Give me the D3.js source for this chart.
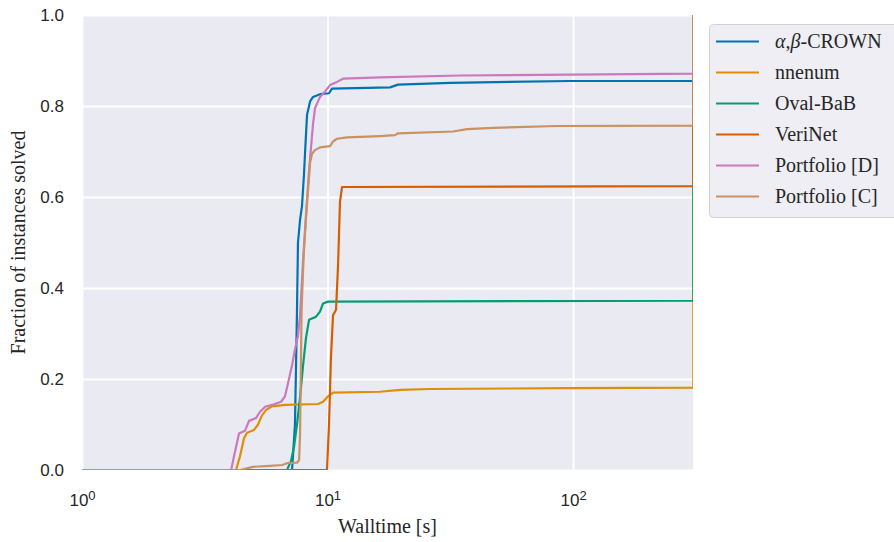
<!DOCTYPE html>
<html>
<head>
<meta charset="utf-8">
<script src="https://cdn.jsdelivr.net/npm/d3@7"></script>
<style>
	body { margin: 0; background: #fff; }
	svg { display: block; }
</style>
</head>
<body>
<svg id="chart" width="894" height="542"></svg>
<script>
// [walltime in s, fraction of instances solved]
const crown = [[1,0],[7.17,0],[7.37,0.1],[7.51,0.35],[7.58,0.5],[7.73,0.55],[7.87,0.58],[8.02,0.65],[8.14,0.72],[8.25,0.78],[8.49,0.81],[8.73,0.82],[9.32,0.826],[10.14,0.828],[10.43,0.838],[17.98,0.841],[19.38,0.847],[31.55,0.851],[97.2,0.855],[309,0.855],[309,1]];
const nnenum = [[1,0],[4.24,0],[4.40,0.03],[4.57,0.07],[4.70,0.082],[5.02,0.088],[5.21,0.10],[5.41,0.12],[5.62,0.132],[5.94,0.140],[6.71,0.143],[9.15,0.145],[9.59,0.15],[10.05,0.162],[10.53,0.170],[16.36,0.172],[19.74,0.176],[26.15,0.178],[97.2,0.180],[309,0.181],[309,1]];
const ovalBab = [[1,0],[6.84,0],[7.10,0.02],[7.30,0.05],[7.51,0.10],[7.73,0.16],[7.95,0.23],[8.17,0.29],[8.41,0.33],[8.98,0.337],[9.32,0.348],[9.59,0.366],[10.05,0.370],[309,0.372],[309,1]];
const veriNet = [[1,0],[9.95,0],[10.14,0.10],[10.33,0.25],[10.53,0.34],[10.83,0.352],[11.04,0.45],[11.24,0.59],[11.46,0.622],[309,0.624],[309,1]];
const portfolioD = [[1,0],[4.05,0],[4.16,0.03],[4.36,0.08],[4.61,0.086],[4.79,0.108],[5.11,0.114],[5.31,0.128],[5.57,0.139],[5.94,0.143],[6.47,0.150],[6.71,0.162],[6.90,0.19],[7.17,0.23],[7.37,0.265],[7.58,0.295],[7.73,0.34],[7.95,0.46],[8.17,0.56],[8.41,0.66],[8.57,0.71],[8.73,0.76],[8.89,0.795],[9.32,0.82],[9.77,0.832],[10.24,0.846],[10.93,0.853],[11.57,0.860],[16.36,0.863],[34.65,0.867],[97.2,0.869],[309,0.871],[309,1]];
const portfolioC = [[1,0],[4.40,0],[4.97,0.007],[5.83,0.009],[6.53,0.011],[6.84,0.015],[7.51,0.016],[7.66,0.022],[7.73,0.08],[7.84,0.35],[7.99,0.47],[8.21,0.57],[8.37,0.63],[8.49,0.675],[8.65,0.695],[8.89,0.703],[9.32,0.709],[10.24,0.712],[10.53,0.722],[10.93,0.728],[12.01,0.731],[16.36,0.734],[18.83,0.736],[19.38,0.740],[32.45,0.744],[37.0,0.749],[47.2,0.752],[86.1,0.756],[309,0.757],[309,1]];

const seriesNames = ['α,β-CROWN', 'nnenum', 'Oval-BaB', 'VeriNet', 'Portfolio [D]', 'Portfolio [C]'];
const xTicks = [1, 10, 100];
const yTicks = [0, 0.2, 0.4, 0.6, 0.8, 1.0];
const xDomain = [1, 308];

;(() => {
	'use strict';

	const svg = d3.select('#chart'),
		left = 82,
		right = 693,
		top = 15,
		bottom = 470,
		serif = '"Liberation Serif", "Times New Roman", serif',
		sans = '"Liberation Sans", Arial, sans-serif',
		textColor = '#262626';

	// seaborn colorblind palette
	const colors = ['#0173b2', '#de8f05', '#029e73', '#d55e00', '#cc78bc', '#ca9161'],
		allSeries = [crown, nnenum, ovalBab, veriNet, portfolioD, portfolioC];

	const x = d3.scaleLog().domain(xDomain).range([left, right]),
		y = d3.scaleLinear().domain([0, 1]).range([bottom, top]);

	// plot background
	svg.append('rect')
		.attr('x', left)
		.attr('y', top)
		.attr('width', right - left)
		.attr('height', bottom - top)
		.attr('fill', '#eaeaf2');

	svg.append('clipPath')
		.attr('id', 'plot-clip')
		.append('rect')
		.attr('x', left)
		.attr('y', top)
		.attr('width', right - left)
		.attr('height', bottom - top);

	/**
	* style an axis group the seaborn darkgrid way
	* @returns {undefined}
	*/
	const styleAxis = function(g) {
		g.select('.domain').remove();
		g.selectAll('.tick line')
			.attr('stroke', '#fff')
			.attr('stroke-width', 1.8);
		g.selectAll('.tick text')
			.attr('fill', textColor)
			.style('font-family', sans)
			.style('font-size', '17px');
	};

	// x axis, grid included
	const xAxis = svg.append('g')
		.attr('transform', `translate(0,${bottom})`)
		.call(d3.axisBottom(x)
			.tickValues(xTicks)
			.tickSize(-(bottom - top))
			.tickPadding(24))
		.call(styleAxis);

	xAxis.selectAll('.tick text')
		.each(function(d) {
			const t = d3.select(this);
			t.text(null);
			t.append('tspan').text('10');
			t.append('tspan')
				.attr('dy', '-0.45em')
				.style('font-size', '13px')
				.text(Math.round(Math.log10(d)));
		});

	// y axis, grid included
	svg.append('g')
		.attr('transform', `translate(${left},0)`)
		.call(d3.axisLeft(y)
			.tickValues(yTicks)
			.tickFormat(d3.format('.1f'))
			.tickSize(-(right - left))
			.tickPadding(18))
		.call(styleAxis);

	// series lines
	const line = d3.line()
		.x((d) => x(d[0]))
		.y((d) => y(d[1]));

	svg.append('g')
		.attr('clip-path', 'url(#plot-clip)')
		.selectAll('path')
		.data(allSeries)
		.enter()
		.append('path')
		.attr('d', line)
		.attr('fill', 'none')
		.attr('stroke', (d, i) => colors[i])
		.attr('stroke-width', 2.2)
		.attr('stroke-linejoin', 'round');

	// axis titles
	svg.append('text')
		.attr('x', (left + right) / 2)
		.attr('y', 533)
		.attr('text-anchor', 'middle')
		.attr('fill', textColor)
		.style('font-family', serif)
		.style('font-size', '20px')
		.text('Walltime [s]');

	svg.append('text')
		.attr('transform', `translate(25,${(top + bottom) / 2}) rotate(-90)`)
		.attr('text-anchor', 'middle')
		.attr('fill', textColor)
		.style('font-family', serif)
		.style('font-size', '20px')
		.text('Fraction of instances solved');

	// legend, runs off the right edge as in the original
	const legend = svg.append('g');

	legend.append('rect')
		.attr('x', 709.5)
		.attr('y', 24.5)
		.attr('width', 220)
		.attr('height', 193)
		.attr('rx', 4)
		.attr('fill', '#eeeef4')
		.attr('stroke', '#d2d2d2');

	const entries = legend.selectAll('.entry')
		.data(seriesNames)
		.enter()
		.append('g')
		.attr('class', 'entry')
		.attr('transform', (d, i) => `translate(0,${41.5 + i * 31})`);

	entries.append('line')
		.attr('x1', 716)
		.attr('x2', 759)
		.attr('stroke', (d, i) => colors[i])
		.attr('stroke-width', 2.2);

	entries.append('text')
		.attr('x', 775)
		.attr('dy', '0.33em')
		.attr('fill', textColor)
		.style('font-family', serif)
		.style('font-size', '20px')
		.each(function(d) {
			// greek letters set in math italic
			const t = d3.select(this);
			d.split(/([α-ω])/).filter((s) => s !== '').forEach((part) => {
				t.append('tspan')
					.style('font-style', /[α-ω]/.test(part) ? 'italic' : 'normal')
					.text(part);
			});
		});
})();
</script>
</body>
</html>
